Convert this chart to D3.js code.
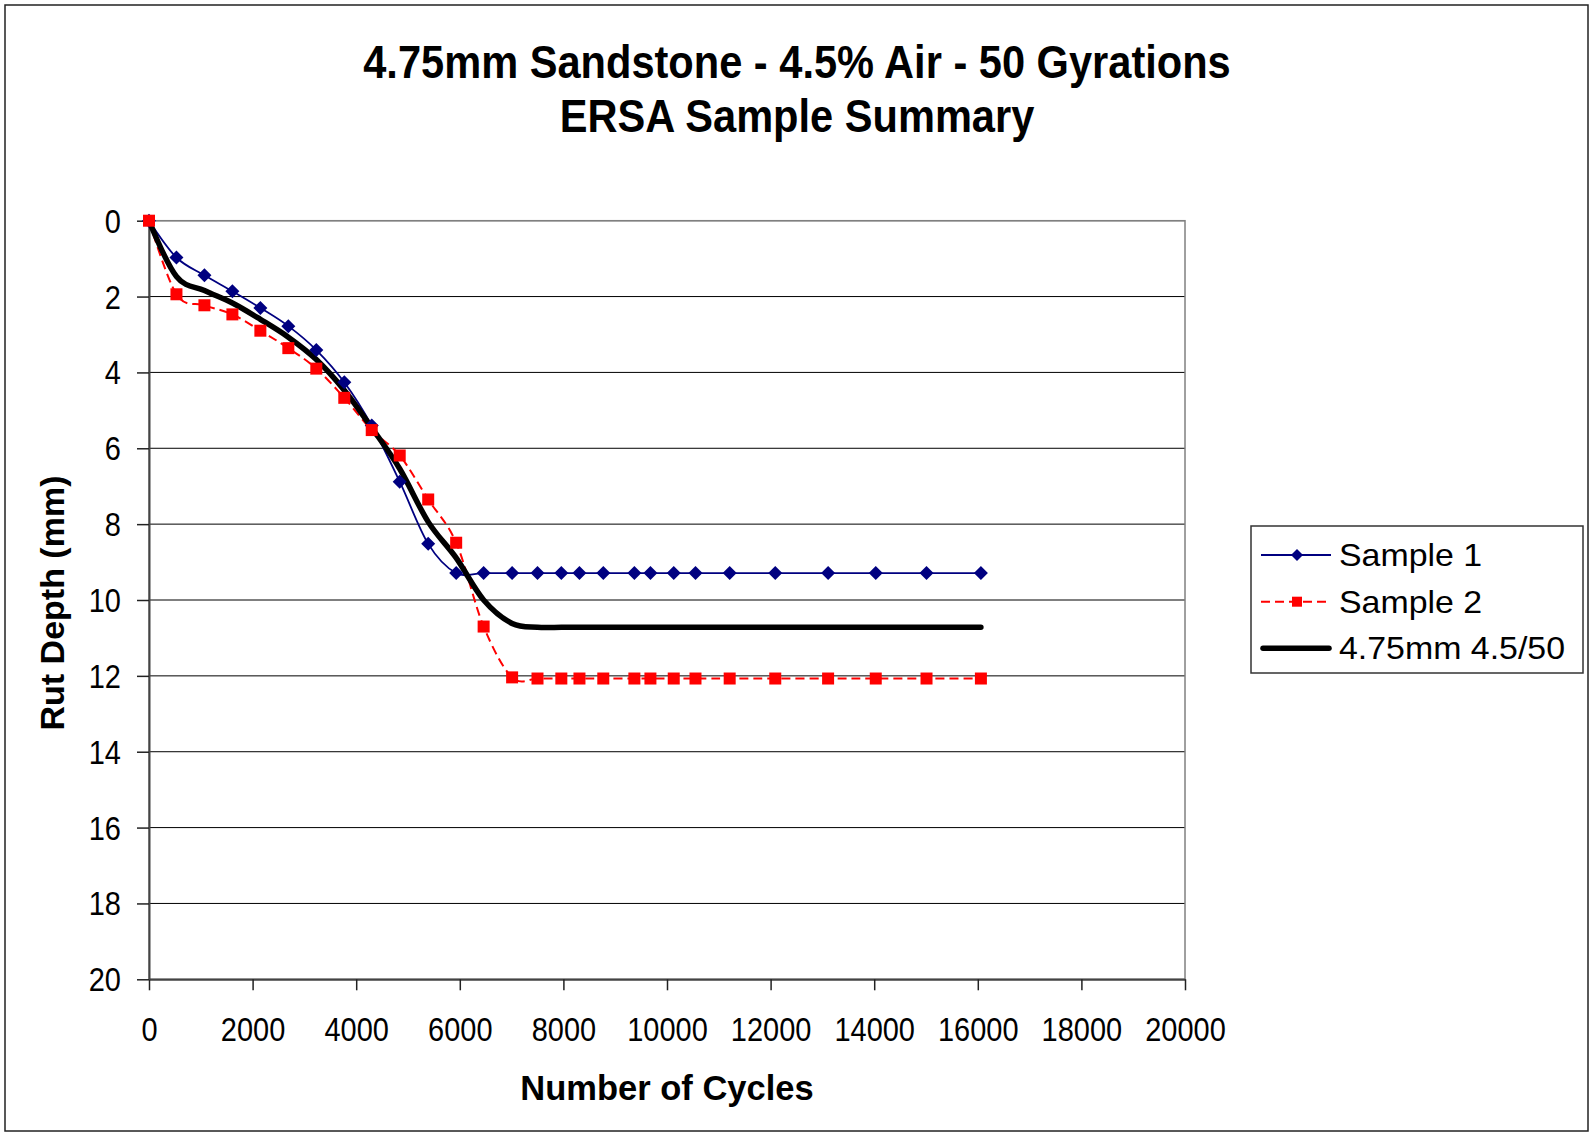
<!DOCTYPE html>
<html>
<head>
<meta charset="utf-8">
<script src="https://cdn.jsdelivr.net/npm/d3@7"></script>
<style>
  body { margin: 0; background: #fff; }
  text { font-family: "Liberation Sans", Arial, sans-serif; }
</style>
</head>
<body>
<div class="chartContainer"></div>
<script>
// values
const cycles = [0, 530, 1070, 1610, 2150, 2690, 3230, 3770, 4300, 4840,
  5390, 5930, 6460, 7010, 7500, 7960, 8310, 8770, 9370, 9680,
  10130, 10550, 11210, 12090, 13110, 14030, 15010, 16060];

const sample1 = [0, 0.97, 1.44, 1.86, 2.30, 2.78, 3.41, 4.26, 5.40, 6.88,
  8.52, 9.29, 9.29, 9.29, 9.29, 9.29, 9.29, 9.29, 9.29, 9.29,
  9.29, 9.29, 9.29, 9.29, 9.29, 9.29, 9.29, 9.29];

const sample2 = [0, 1.94, 2.23, 2.47, 2.90, 3.36, 3.90, 4.67, 5.52, 6.19,
  7.35, 8.49, 10.70, 12.04, 12.07, 12.07, 12.07, 12.07, 12.07, 12.07,
  12.07, 12.07, 12.07, 12.07, 12.07, 12.07, 12.07, 12.07];

const mixAvg = [0, 1.47, 1.84, 2.17, 2.60, 3.07, 3.66, 4.47, 5.46, 6.54,
  7.94, 8.89, 10.00, 10.62, 10.72, 10.72, 10.72, 10.72, 10.72, 10.72,
  10.72, 10.72, 10.72, 10.72, 10.72, 10.72, 10.72, 10.72];

const xTicks = [0, 2000, 4000, 6000, 8000, 10000, 12000, 14000, 16000, 18000, 20000];
const yTicks = [0, 2, 4, 6, 8, 10, 12, 14, 16, 18, 20];

const titleLines = ["4.75mm Sandstone - 4.5% Air - 50 Gyrations", "ERSA Sample Summary"];
const seriesNames = ["Sample 1", "Sample 2", "4.75mm 4.5/50"];

const w = 1591,
  h = 1135;

const svg = d3.select(".chartContainer")
  .append("svg")
  .attr("width", w)
  .attr("height", h);

// outer chart border
svg.append("rect")
  .attr("x", 5)
  .attr("y", 5)
  .attr("width", 1583)
  .attr("height", 1126)
  .attr("fill", "#fff")
  .attr("stroke", "#222")
  .attr("stroke-width", 1.5);

const plotL = 149, plotR = 1185, plotT = 220.7, plotB = 979.3;

const x = d3.scaleLinear().domain([0, 20000]).range([plotL, plotR]);
const y = d3.scaleLinear().domain([0, 20]).range([plotT, plotB]);

// title
svg.selectAll(".title")
  .data(titleLines)
  .enter()
  .append("text")
  .attr("class", "title")
  .attr("transform", function (d, i) { return "translate(797," + (78 + i * 54) + ") scale(1,1.1)"; })
  .attr("text-anchor", "middle")
  .attr("font-size", 41.6)
  .attr("font-weight", "bold")
  .text(function (d) { return d; });

// gridlines
svg.append("g")
  .selectAll("line")
  .data(yTicks)
  .enter()
  .append("line")
  .attr("x1", plotL)
  .attr("x2", plotR)
  .attr("y1", function (d) { return y(d); })
  .attr("y2", function (d) { return y(d); })
  .attr("stroke", "#000")
  .attr("stroke-width", 1);

// plot area border (top / right)
svg.append("rect")
  .attr("x", plotL)
  .attr("y", plotT)
  .attr("width", plotR - plotL)
  .attr("height", plotB - plotT)
  .attr("fill", "none")
  .attr("stroke", "#808080")
  .attr("stroke-width", 1.5);

// axes
const xAxis = d3.axisBottom(x).tickValues(xTicks).tickSize(11).tickSizeOuter(0).tickFormat(d3.format("d"));
const yAxis = d3.axisLeft(y).tickValues(yTicks).tickSize(12).tickSizeOuter(0).tickFormat(d3.format("d"));

const gx = svg.append("g")
  .attr("transform", "translate(0," + plotB + ")")
  .call(xAxis);
gx.select(".domain").attr("stroke", "#444").attr("stroke-width", 2);
gx.selectAll(".tick line").attr("stroke", "#222").attr("stroke-width", 1.5);
gx.selectAll(".tick text")
  .attr("x", null).attr("y", null).attr("dy", null)
  .attr("transform", "translate(0,61.5) scale(1,1.12)")
  .attr("font-size", 29)
  .attr("font-family", "'Liberation Sans', Arial, sans-serif")
  .attr("fill", "#000");

const gy = svg.append("g")
  .attr("transform", "translate(" + plotL + ",0)")
  .call(yAxis);
gy.select(".domain").attr("stroke", "#444").attr("stroke-width", 2);
gy.selectAll(".tick line").attr("stroke", "#222").attr("stroke-width", 1.5);
gy.selectAll(".tick text")
  .attr("x", null).attr("y", null).attr("dy", null)
  .attr("transform", "translate(-28,11.5) scale(1,1.12)")
  .attr("font-size", 29)
  .attr("font-family", "'Liberation Sans', Arial, sans-serif")
  .attr("fill", "#000");

// axis titles
svg.append("text")
  .attr("x", (plotL + plotR) / 2)
  .attr("y", 1100)
  .attr("text-anchor", "middle")
  .attr("font-size", 34.5)
  .attr("font-weight", "bold")
  .text("Number of Cycles");

svg.append("text")
  .attr("transform", "translate(64,603) rotate(-90)")
  .attr("text-anchor", "middle")
  .attr("font-size", 34)
  .attr("font-weight", "bold")
  .text("Rut Depth (mm)");

// lines
const smooth = d3.curveCatmullRom.alpha(0);

function lineFor(vals) {
  return d3.line()
    .x(function (d, i) { return x(cycles[i]); })
    .y(function (d) { return y(d); })
    .curve(smooth)(vals);
}

svg.append("path")
  .attr("d", lineFor(sample1))
  .attr("fill", "none")
  .attr("stroke", "#000080")
  .attr("stroke-width", 1.8);

svg.append("path")
  .attr("d", lineFor(sample2))
  .attr("fill", "none")
  .attr("stroke", "#ff0000")
  .attr("stroke-width", 2)
  .attr("stroke-dasharray", "9,5");

svg.append("path")
  .attr("d", lineFor(mixAvg))
  .attr("fill", "none")
  .attr("stroke", "#000")
  .attr("stroke-width", 5.5)
  .attr("stroke-linecap", "round")
  .attr("stroke-linejoin", "round");

// markers
svg.append("g")
  .selectAll("path")
  .data(sample1)
  .enter()
  .append("path")
  .attr("transform", function (d, i) { return "translate(" + x(cycles[i]) + "," + y(d) + ")"; })
  .attr("d", "M0,-7L7,0L0,7L-7,0Z")
  .attr("fill", "#000080");

svg.append("g")
  .selectAll("rect")
  .data(sample2)
  .enter()
  .append("rect")
  .attr("x", function (d, i) { return x(cycles[i]) - 6; })
  .attr("y", function (d) { return y(d) - 6; })
  .attr("width", 12)
  .attr("height", 12)
  .attr("fill", "#ff0000");

// legend
const legend = svg.append("g");
legend.append("rect")
  .attr("x", 1251)
  .attr("y", 526)
  .attr("width", 332)
  .attr("height", 147)
  .attr("fill", "#fff")
  .attr("stroke", "#333")
  .attr("stroke-width", 1.5);

const rowY = [555, 601.7, 648.3];

legend.append("line")
  .attr("x1", 1261).attr("x2", 1331)
  .attr("y1", rowY[0]).attr("y2", rowY[0])
  .attr("stroke", "#000080").attr("stroke-width", 1.8);
legend.append("path")
  .attr("transform", "translate(1297," + rowY[0] + ")")
  .attr("d", "M0,-6L6,0L0,6L-6,0Z")
  .attr("fill", "#000080");

legend.append("line")
  .attr("x1", 1261).attr("x2", 1331)
  .attr("y1", rowY[1]).attr("y2", rowY[1])
  .attr("stroke", "#ff0000").attr("stroke-width", 2)
  .attr("stroke-dasharray", "9,5");
legend.append("rect")
  .attr("x", 1297 - 5).attr("y", rowY[1] - 5)
  .attr("width", 10).attr("height", 10)
  .attr("fill", "#ff0000");

legend.append("line")
  .attr("x1", 1263).attr("x2", 1329)
  .attr("y1", rowY[2]).attr("y2", rowY[2])
  .attr("stroke", "#000").attr("stroke-width", 5.5)
  .attr("stroke-linecap", "round");

legend.selectAll(".legendText")
  .data(seriesNames)
  .enter()
  .append("text")
  .attr("class", "legendText")
  .attr("transform", function (d, i) { return "translate(1339," + (rowY[i] + 11) + ") scale(1.13,1.03)"; })
  .attr("font-size", 30)
  .text(function (d) { return d; });
</script>
</body>
</html>
